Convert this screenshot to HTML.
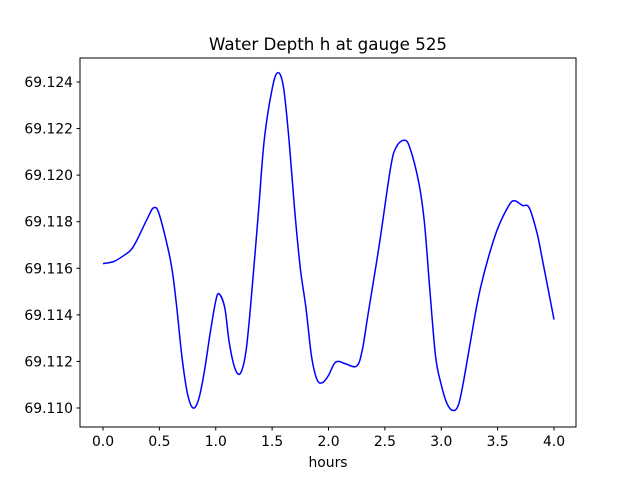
<!DOCTYPE html>
<html><head><meta charset="utf-8"><style>body{margin:0;background:#fff}svg{display:block;font-family:"DejaVu Sans","Liberation Sans",sans-serif}</style></head>
<body>
<svg id="c" width="640" height="480"></svg>
<script>
const times=[0,0.1,0.2,0.25,0.3,0.4,0.45,0.5,0.6,0.65,0.7,0.75,0.8,0.85,0.9,0.95,1.0,1.03,1.08,1.12,1.17,1.22,1.27,1.32,1.38,1.43,1.5,1.55,1.6,1.65,1.7,1.75,1.8,1.85,1.9,1.95,2.0,2.05,2.09,2.15,2.25,2.3,2.35,2.45,2.55,2.6,2.67,2.72,2.8,2.85,2.9,2.95,3.0,3.05,3.1,3.15,3.2,3.3,3.35,3.42,3.5,3.6,3.65,3.72,3.78,3.85,3.9,4.0];
const depth=[69.1162,69.1163,69.1166,69.1168,69.1172,69.1182,69.1186,69.1183,69.1163,69.1145,69.1122,69.1106,69.1100,69.1104,69.1116,69.1132,69.1146,69.1149,69.1143,69.1128,69.1117,69.1115,69.1125,69.1150,69.1185,69.1215,69.1237,69.1244,69.1238,69.1215,69.1185,69.1160,69.1143,69.1122,69.1112,69.1111,69.1114,69.1119,69.1120,69.1119,69.1118,69.1125,69.1140,69.1170,69.1203,69.1212,69.1215,69.1212,69.1197,69.1180,69.1150,69.1122,69.1110,69.1102,69.1099,69.1101,69.1112,69.1140,69.1152,69.1165,69.1177,69.1187,69.1189,69.1187,69.1186,69.1175,69.1163,69.1138];
const xTicks=[0,0.5,1,1.5,2,2.5,3,3.5,4];
const xTickLabels=["0.0","0.5","1.0","1.5","2.0","2.5","3.0","3.5","4.0"];
const yTicks=[69.110,69.112,69.114,69.116,69.118,69.120,69.122,69.124];
const yTickLabels=["69.110","69.112","69.114","69.116","69.118","69.120","69.122","69.124"];
const NS="http://www.w3.org/2000/svg",svg=document.getElementById('c');
const L=80,R=576,T=58,B=427;
const X=v=>103+v*(554-103)/4;
const Y=v=>408-(v-69.110)*(408-82)/0.014;
function el(t,a,p){const e=document.createElementNS(NS,t);for(const k in a)e.setAttribute(k,a[k]);(p||svg).appendChild(e);return e;}
let pts=times.map((t,i)=>[X(t),Y(depth[i])]);
let d="M"+pts[0][0]+","+pts[0][1];
for(let i=0;i<pts.length-1;i++){const p0=pts[Math.max(0,i-1)],p1=pts[i],p2=pts[i+1],p3=pts[Math.min(pts.length-1,i+2)];
d+=" C"+(p1[0]+(p2[0]-p0[0])/6)+","+(p1[1]+(p2[1]-p0[1])/6)+" "+(p2[0]-(p3[0]-p1[0])/6)+","+(p2[1]-(p3[1]-p1[1])/6)+" "+p2[0]+","+p2[1];}
const line=el('path',{d:d,fill:'none',stroke:'#0000ff','stroke-width':1.5});

const frame=el('rect',{x:L,y:T,width:R-L,height:B-T,fill:'none',stroke:'#000','stroke-width':1});

xTicks.forEach((v,i)=>{el('line',{x1:X(v),x2:X(v),y1:B,y2:B+3.5,stroke:'#000'});
const t=el('text',{x:X(v),y:B+19,'font-size':13.9,'text-anchor':'middle'});t.textContent=xTickLabels[i];
});
yTicks.forEach((v,i)=>{el('line',{x1:L-3.5,x2:L,y1:Y(v),y2:Y(v),stroke:'#000'});
const t=el('text',{x:L-7,y:Y(v)+5,'font-size':13.9,'text-anchor':'end'});t.textContent=yTickLabels[i];
});
const xl=el('text',{x:328,y:467,'font-size':13.9,'text-anchor':'middle'});xl.textContent="hours";

const ti=el('text',{x:328,y:50,'font-size':16.7,'text-anchor':'middle'});ti.textContent="Water Depth h at gauge 525";

</script>
</body></html>
